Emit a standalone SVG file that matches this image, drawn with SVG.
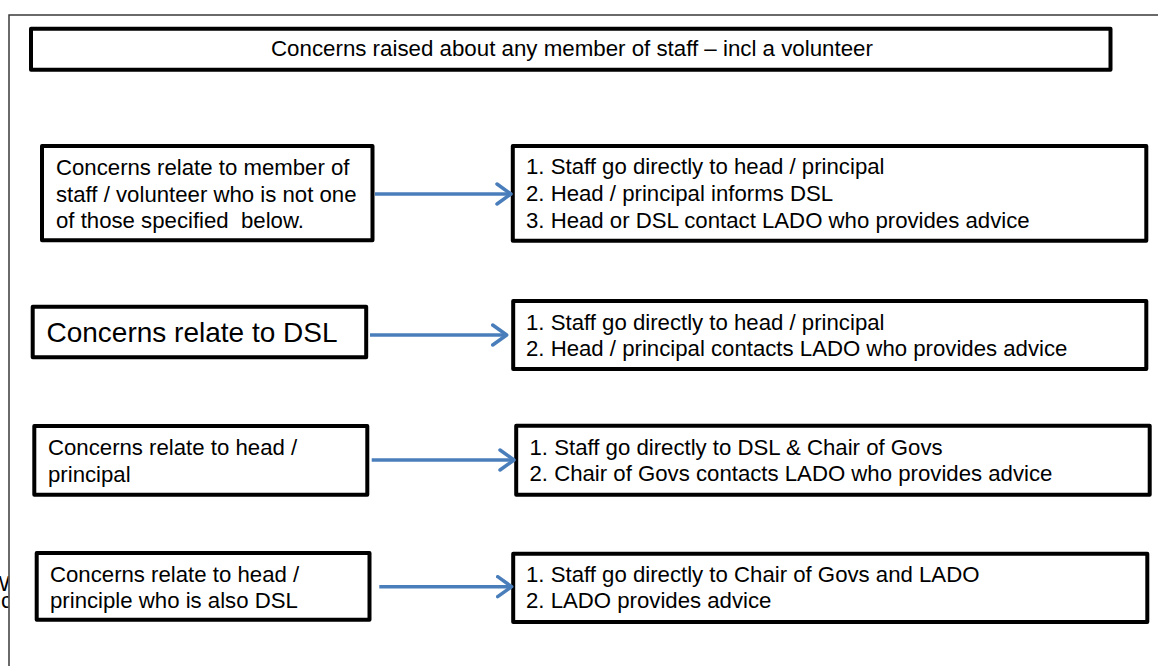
<svg xmlns="http://www.w3.org/2000/svg" width="1158" height="666" viewBox="0 0 1158 666">
<style>
  .frame { fill: none; stroke: #3a3a3a; stroke-width: 1.5; }
  .box { fill: #ffffff; stroke: #000000; stroke-width: 4; stroke-linejoin: round; }
  .t { font-family: "Liberation Sans", Arial, sans-serif; font-size: 22.2px; fill: #000000; white-space: pre; }
  .big { font-size: 28px; }
  .frag { font-family: "Liberation Sans", Arial, sans-serif; font-size: 22px; fill: #000000; }
  .arrow { fill: none; stroke: #4a7ebb; stroke-width: 3.5; marker-end: url(#chev); }
</style>
<defs>
  <marker id="chev" viewBox="0 0 18 24" markerWidth="18" markerHeight="24" refX="16" refY="12" markerUnits="userSpaceOnUse" orient="auto">
    <path d="M2,2 L16,12 L2,22" fill="none" stroke="#4a7ebb" stroke-width="3.5" stroke-linecap="round" stroke-linejoin="round"/>
  </marker>
  <clipPath id="leftclip"><rect x="0" y="0" width="8.3" height="666"/></clipPath>
</defs>
<rect width="1158" height="666" fill="#ffffff"/>

<g id="frame">
  <path class="frame" d="M1158,15 H9 V666"/>
  <g clip-path="url(#leftclip)">
    <text class="frag" text-anchor="end"><tspan x="10" y="591">W</tspan><tspan x="12" y="608">nc</tspan></text>
  </g>
</g>

<g id="title">
  <rect class="box" x="31" y="28.7" width="1079.5" height="41"/>
  <text class="t" x="271" y="56" style="font-size:22.3px">Concerns raised about any member of staff – incl a volunteer</text>
</g>

<g id="left1">
  <rect class="box" x="42" y="146" width="330.5" height="94.3"/>
  <text class="t" x="56" y="175">Concerns relate to member of</text>
  <text class="t" x="56" y="201.7">staff / volunteer who is not one</text>
  <text class="t" x="56" y="228.3">of those specified  below.</text>
</g>

<g id="left2">
  <rect class="box" x="32.7" y="306.7" width="333.5" height="50.6"/>
  <text class="t big" x="46.5" y="341.7">Concerns relate to DSL</text>
</g>

<g id="left3">
  <rect class="box" x="34.3" y="426" width="333" height="68.7"/>
  <text class="t" x="48" y="455">Concerns relate to head /</text>
  <text class="t" x="48" y="481.7">principal</text>
</g>

<g id="left4">
  <rect class="box" x="36.7" y="553" width="332.8" height="66.7"/>
  <text class="t" x="50" y="581.5">Concerns relate to head /</text>
  <text class="t" x="50" y="607.5">principle who is also DSL</text>
</g>

<g id="right1">
  <rect class="box" x="512.8" y="146" width="633.5" height="94.7"/>
  <text class="t" x="526" y="174">1. Staff go directly to head / principal</text>
  <text class="t" x="526" y="201">2. Head / principal informs DSL</text>
  <text class="t" x="526" y="228">3. Head or DSL contact LADO who provides advice</text>
</g>

<g id="right2">
  <rect class="box" x="513.2" y="301" width="633.1" height="68"/>
  <text class="t" x="526" y="330">1. Staff go directly to head / principal</text>
  <text class="t" x="526" y="355.7">2. Head / principal contacts LADO who provides advice</text>
</g>

<g id="right3">
  <rect class="box" x="516.2" y="425.7" width="633.5" height="69"/>
  <text class="t" x="529.5" y="455">1. Staff go directly to DSL &amp; Chair of Govs</text>
  <text class="t" x="529.5" y="480.7">2. Chair of Govs contacts LADO who provides advice</text>
</g>

<g id="right4">
  <rect class="box" x="513.2" y="553.8" width="634.1" height="68.2"/>
  <text class="t" x="526" y="581.5">1. Staff go directly to Chair of Govs and LADO</text>
  <text class="t" x="526" y="607.5">2. LADO provides advice</text>
</g>

<g id="connectors">
  <line class="arrow" x1="375" y1="194" x2="511" y2="194"/>
  <line class="arrow" x1="370" y1="335" x2="506.7" y2="335"/>
  <line class="arrow" x1="371.7" y1="460" x2="514" y2="460"/>
  <line class="arrow" x1="379.3" y1="586.7" x2="511.7" y2="586.7"/>
</g>
</svg>
